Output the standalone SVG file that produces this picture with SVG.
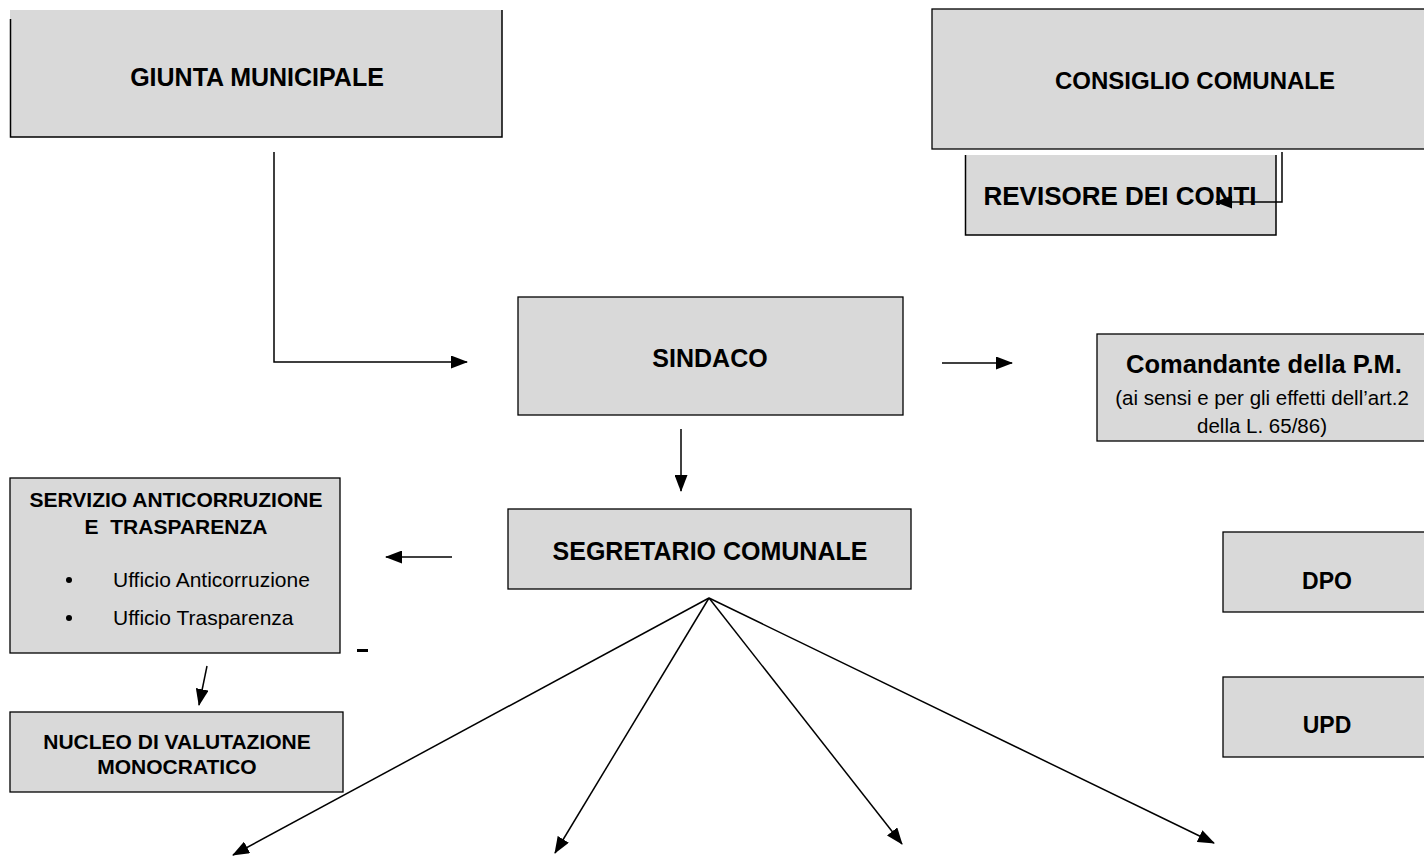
<svg xmlns="http://www.w3.org/2000/svg" width="1424" height="856" viewBox="0 0 1424 856">
<style>
.box{fill:#d9d9d9;stroke:#000;stroke-width:1.3}
.t{font-family:"Liberation Sans",Arial,sans-serif;font-weight:bold;fill:#000;text-anchor:middle}
.n{font-family:"Liberation Sans",Arial,sans-serif;fill:#000}
.c{fill:none;stroke:#000;stroke-width:1.5}
</style>
<defs>
<marker id="ah" markerUnits="userSpaceOnUse" markerWidth="17" markerHeight="13" refX="16" refY="6.5" orient="auto">
<path d="M0,0 L17,6.5 L0,13 Z" fill="#000"/>
</marker>
</defs>
<rect width="1424" height="856" fill="#fff"/>
<g id="giunta">
<rect x="10" y="10" width="492" height="127" fill="#d9d9d9"/>
<path d="M10.5,19 V137 H502 V10" class="c" stroke-width="1.3"/>
<text class="t" x="257" y="86" font-size="25">GIUNTA MUNICIPALE</text>
</g>
<g id="consiglio">
<rect class="box" x="932" y="9" width="500" height="140"/>
<text class="t" x="1195" y="89" font-size="24">CONSIGLIO COMUNALE</text>
</g>
<g id="revisore">
<rect x="965" y="155" width="311" height="80" fill="#d9d9d9"/>
<path d="M965.5,155 V235 H1276 V155" class="c" stroke-width="1.3"/>
<text class="t" x="1120" y="205" font-size="26">REVISORE DEI CONTI</text>
</g>
<g id="sindaco">
<rect class="box" x="518" y="297" width="385" height="118"/>
<text class="t" x="710" y="367" font-size="25">SINDACO</text>
</g>
<g id="comandante">
<rect class="box" x="1097" y="334" width="340" height="107"/>
<text class="t" x="1264" y="373" font-size="25.5">Comandante della P.M.</text>
<text class="n" x="1262" y="405" font-size="20.5" text-anchor="middle">(ai sensi e per gli effetti dell’art.2</text>
<text class="n" x="1262" y="433" font-size="20.5" text-anchor="middle">della L. 65/86)</text>
</g>
<g id="segretario">
<rect class="box" x="508" y="509" width="403" height="80"/>
<text class="t" x="710" y="560" font-size="25">SEGRETARIO COMUNALE</text>
</g>
<g id="servizio">
<rect class="box" x="10" y="478" width="330" height="175"/>
<text class="t" x="176" y="507" font-size="21">SERVIZIO ANTICORRUZIONE</text>
<text class="t" x="176" y="534" font-size="21" xml:space="preserve">E  TRASPARENZA</text>
<circle cx="69" cy="580" r="3" fill="#000"/>
<circle cx="69" cy="618" r="3" fill="#000"/>
<text class="n" x="113" y="587" font-size="21">Ufficio Anticorruzione</text>
<text class="n" x="113" y="625" font-size="21">Ufficio Trasparenza</text>
</g>
<g id="dash">
<rect x="357" y="649" width="11" height="3" fill="#000"/>
</g>
<g id="nucleo">
<rect class="box" x="10" y="712" width="333" height="80"/>
<text class="t" x="177" y="749" font-size="21">NUCLEO DI VALUTAZIONE</text>
<text class="t" x="177" y="774" font-size="21">MONOCRATICO</text>
</g>
<g id="dpo">
<rect class="box" x="1223" y="532" width="210" height="80"/>
<text class="t" x="1327" y="589" font-size="23">DPO</text>
</g>
<g id="upd">
<rect class="box" x="1223" y="677" width="210" height="80"/>
<text class="t" x="1327" y="733" font-size="23">UPD</text>
</g>
<g id="connectors">
<path class="c" d="M274,152 V362 H467" marker-end="url(#ah)"/>
<path class="c" d="M1282,152 V202 H1216" marker-end="url(#ah)"/>
<path class="c" d="M942,363 H1012" marker-end="url(#ah)"/>
<path class="c" d="M681,429 V491" marker-end="url(#ah)"/>
<path class="c" d="M452,557 H386" marker-end="url(#ah)"/>
<path class="c" d="M207,666 L199,705" marker-end="url(#ah)"/>
<path class="c" d="M709,598 L233,855" marker-end="url(#ah)"/>
<path class="c" d="M709,598 L555,853" marker-end="url(#ah)"/>
<path class="c" d="M709,598 L902,844" marker-end="url(#ah)"/>
<path class="c" d="M709,598 L1214,843" marker-end="url(#ah)"/>
</g>
</svg>
